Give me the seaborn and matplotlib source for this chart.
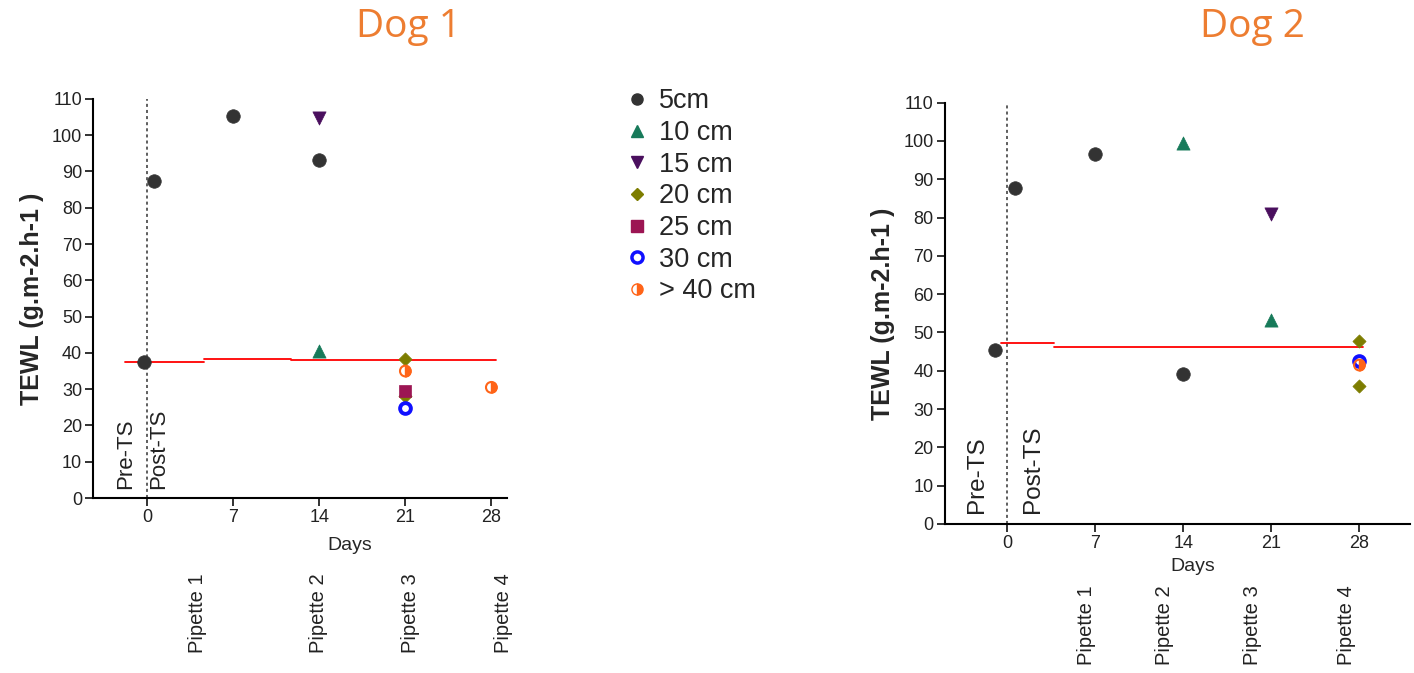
import matplotlib
matplotlib.use('Agg')
import matplotlib.pyplot as plt
import seaborn as sns
from matplotlib.lines import Line2D

sns.set_style('white')
plt.rcParams['font.family'] = ['Liberation Sans', 'DejaVu Sans']

# Dog 1 readings (day, TEWL)
d1_5cm_days = [-0.25, 0.5, 7, 14]
d1_5cm_vals = [37.5, 87.5, 105.2, 93.2]
d1_10cm_days = [14]
d1_10cm_vals = [40.5]
d1_15cm_days = [14]
d1_15cm_vals = [104.8]
d1_20cm_days = [21, 21]
d1_20cm_vals = [38.2, 28.0]
d1_25cm_days = [21]
d1_25cm_vals = [29.5]
d1_30cm_days = [21]
d1_30cm_vals = [24.8]
d1_40cm_days = [21, 28]
d1_40cm_vals = [35.0, 30.5]
d1_base_x = [[-1.8, 4.6], [4.6, 11.65], [11.65, 28.4]]
d1_base_y = [37.6, 38.3, 38.1]

# Dog 2 readings (day, TEWL)
d2_5cm_days = [-1.0, 0.6, 7, 14]
d2_5cm_vals = [45.5, 87.8, 96.5, 39.2]
d2_10cm_days = [14, 21]
d2_10cm_vals = [99.5, 53.2]
d2_15cm_days = [21]
d2_15cm_vals = [81.0]
d2_20cm_days = [28, 28]
d2_20cm_vals = [47.8, 36.0]
d2_25cm_days = []
d2_25cm_vals = []
d2_30cm_days = [28]
d2_30cm_vals = [42.5]
d2_40cm_days = [28]
d2_40cm_vals = [41.5]
d2_base_x = [[-0.5, 3.7], [3.7, 28.3]]
d2_base_y = [47.2, 46.1]

labels = ['5cm', '10 cm', '15 cm', '20 cm', '25 cm', '30 cm', '> 40 cm']
colors = ['#333333', '#177a5a', '#4a0f5e', '#7d7d00', '#9c1553', '#1010ff', '#ff6418']
markers = ['o', '^', 'v', 'D', 's', 'o', 'o']
sizes = [95, 90, 90, 45, 80, 60, 60]

pipettes = ['Pipette 1', 'Pipette 2', 'Pipette 3', 'Pipette 4']

fig = plt.figure(figsize=(14.14, 6.73), dpi=100)
ax1 = fig.add_axes([0.066, 0.26, 0.2928, 0.593])
ax2 = fig.add_axes([0.668, 0.2214, 0.329, 0.626])


def draw_dog(ax, series, base_x, base_y, xlim, pip_x, pip_y, pre_x, post_x, txt_y, txt_size, days_xy):
    for i, (xs, ys) in enumerate(series):
        if not xs:
            continue
        if i == 5:
            sns.scatterplot(x=xs, y=ys, ax=ax, marker='o', s=sizes[i], facecolor='white',
                            edgecolor=colors[i], linewidth=2.8, zorder=3)
        elif i == 6:
            sns.scatterplot(x=xs, y=ys, ax=ax, marker=matplotlib.markers.MarkerStyle('o', fillstyle='right'),
                            s=sizes[i], color=colors[i], edgecolor=colors[i], linewidth=1, zorder=3)
            sns.scatterplot(x=xs, y=ys, ax=ax, marker='o', s=sizes[i], facecolor='none',
                            edgecolor=colors[i], linewidth=1.5, zorder=3)
        else:
            sns.scatterplot(x=xs, y=ys, ax=ax, marker=markers[i], s=sizes[i], color=colors[i],
                            edgecolor=colors[i], linewidth=0.5, zorder=3)
    for (x0, x1), yv in zip(base_x, base_y):
        ax.plot([x0, x1], [yv, yv], color='red', lw=1.3, zorder=2)
    ax.axvline(0, color='#333333', ls=(0, (2, 2)), lw=1.1, zorder=1)

    ax.set_xlim(*xlim)
    ax.set_ylim(0, 110)
    ax.set_xticks([0, 7, 14, 21, 28])
    ax.set_yticks(range(0, 111, 10))
    ax.tick_params(axis='both', labelsize=13, colors='#222222', length=6, width=1.3,
                   direction='out', bottom=True, left=True, pad=2)
    for s in ['top', 'right']:
        ax.spines[s].set_visible(False)
    for s in ['left', 'bottom']:
        ax.spines[s].set_color('black')
        ax.spines[s].set_linewidth(1.5)
    ax.set_ylabel('TEWL (g.m-2.h-1 )', fontsize=18, fontweight='bold', labelpad=6)
    ax.set_xlabel('Days', fontsize=14)
    ax.xaxis.set_label_coords(*days_xy)

    ax.text(pre_x, txt_y, 'Pre-TS', rotation=90, ha='center', va='bottom', fontsize=txt_size, color='#222222')
    ax.text(post_x, txt_y, 'Post-TS', rotation=90, ha='center', va='bottom', fontsize=txt_size, color='#222222')
    for px, name in zip(pip_x, pipettes):
        ax.text(px, pip_y, name, rotation=90, ha='center', va='top', fontsize=14.5,
                color='#222222', transform=ax.get_xaxis_transform())


draw_dog(ax1,
         [(d1_5cm_days, d1_5cm_vals), (d1_10cm_days, d1_10cm_vals), (d1_15cm_days, d1_15cm_vals),
          (d1_20cm_days, d1_20cm_vals), (d1_25cm_days, d1_25cm_vals), (d1_30cm_days, d1_30cm_vals),
          (d1_40cm_days, d1_40cm_vals)],
         d1_base_x, d1_base_y, (-4.4, 29.3), [4.1, 13.9, 21.4, 29.0], -0.188, -1.8, 0.9, 2.5, 16,
         (0.62, -0.098))

draw_dog(ax2,
         [(d2_5cm_days, d2_5cm_vals), (d2_10cm_days, d2_10cm_vals), (d2_15cm_days, d2_15cm_vals),
          (d2_20cm_days, d2_20cm_vals), (d2_25cm_days, d2_25cm_vals), (d2_30cm_days, d2_30cm_vals),
          (d2_40cm_days, d2_40cm_vals)],
         d2_base_x, d2_base_y, (-5.0, 32.0), [6.3, 12.5, 19.5, 27.0], -0.145, -2.4, 2.0, 2.9, 17.5,
         (0.533, -0.081))

# legend
handles = []
for i, lab in enumerate(labels):
    if i == 5:
        h = Line2D([], [], ls='', marker='o', markersize=8, markerfacecolor='white',
                   markeredgecolor=colors[i], markeredgewidth=2.5)
    elif i == 6:
        h = Line2D([], [], ls='', marker='o', markersize=8, fillstyle='right', color=colors[i],
                   markerfacecoloralt='white', markeredgecolor=colors[i])
    else:
        h = Line2D([], [], ls='', marker=markers[i], markersize=8 if markers[i] != 'D' else 6,
                   color=colors[i])
    handles.append(h)
fig.legend(handles, labels, loc='upper left', bbox_to_anchor=(0.424, 0.905), frameon=False,
           fontsize=19.5, handletextpad=0.3, labelspacing=0.21, handlelength=1.0)

fig.text(409 / 1414, 1 - 27 / 673, 'Dog 1', ha='center', va='center', fontsize=28,
         color='#ED7D31', family='Open Sans')
fig.text(1252 / 1414, 1 - 27 / 673, 'Dog 2', ha='center', va='center', fontsize=28,
         color='#ED7D31', family='Open Sans')

fig.savefig('out.png', dpi=100)
